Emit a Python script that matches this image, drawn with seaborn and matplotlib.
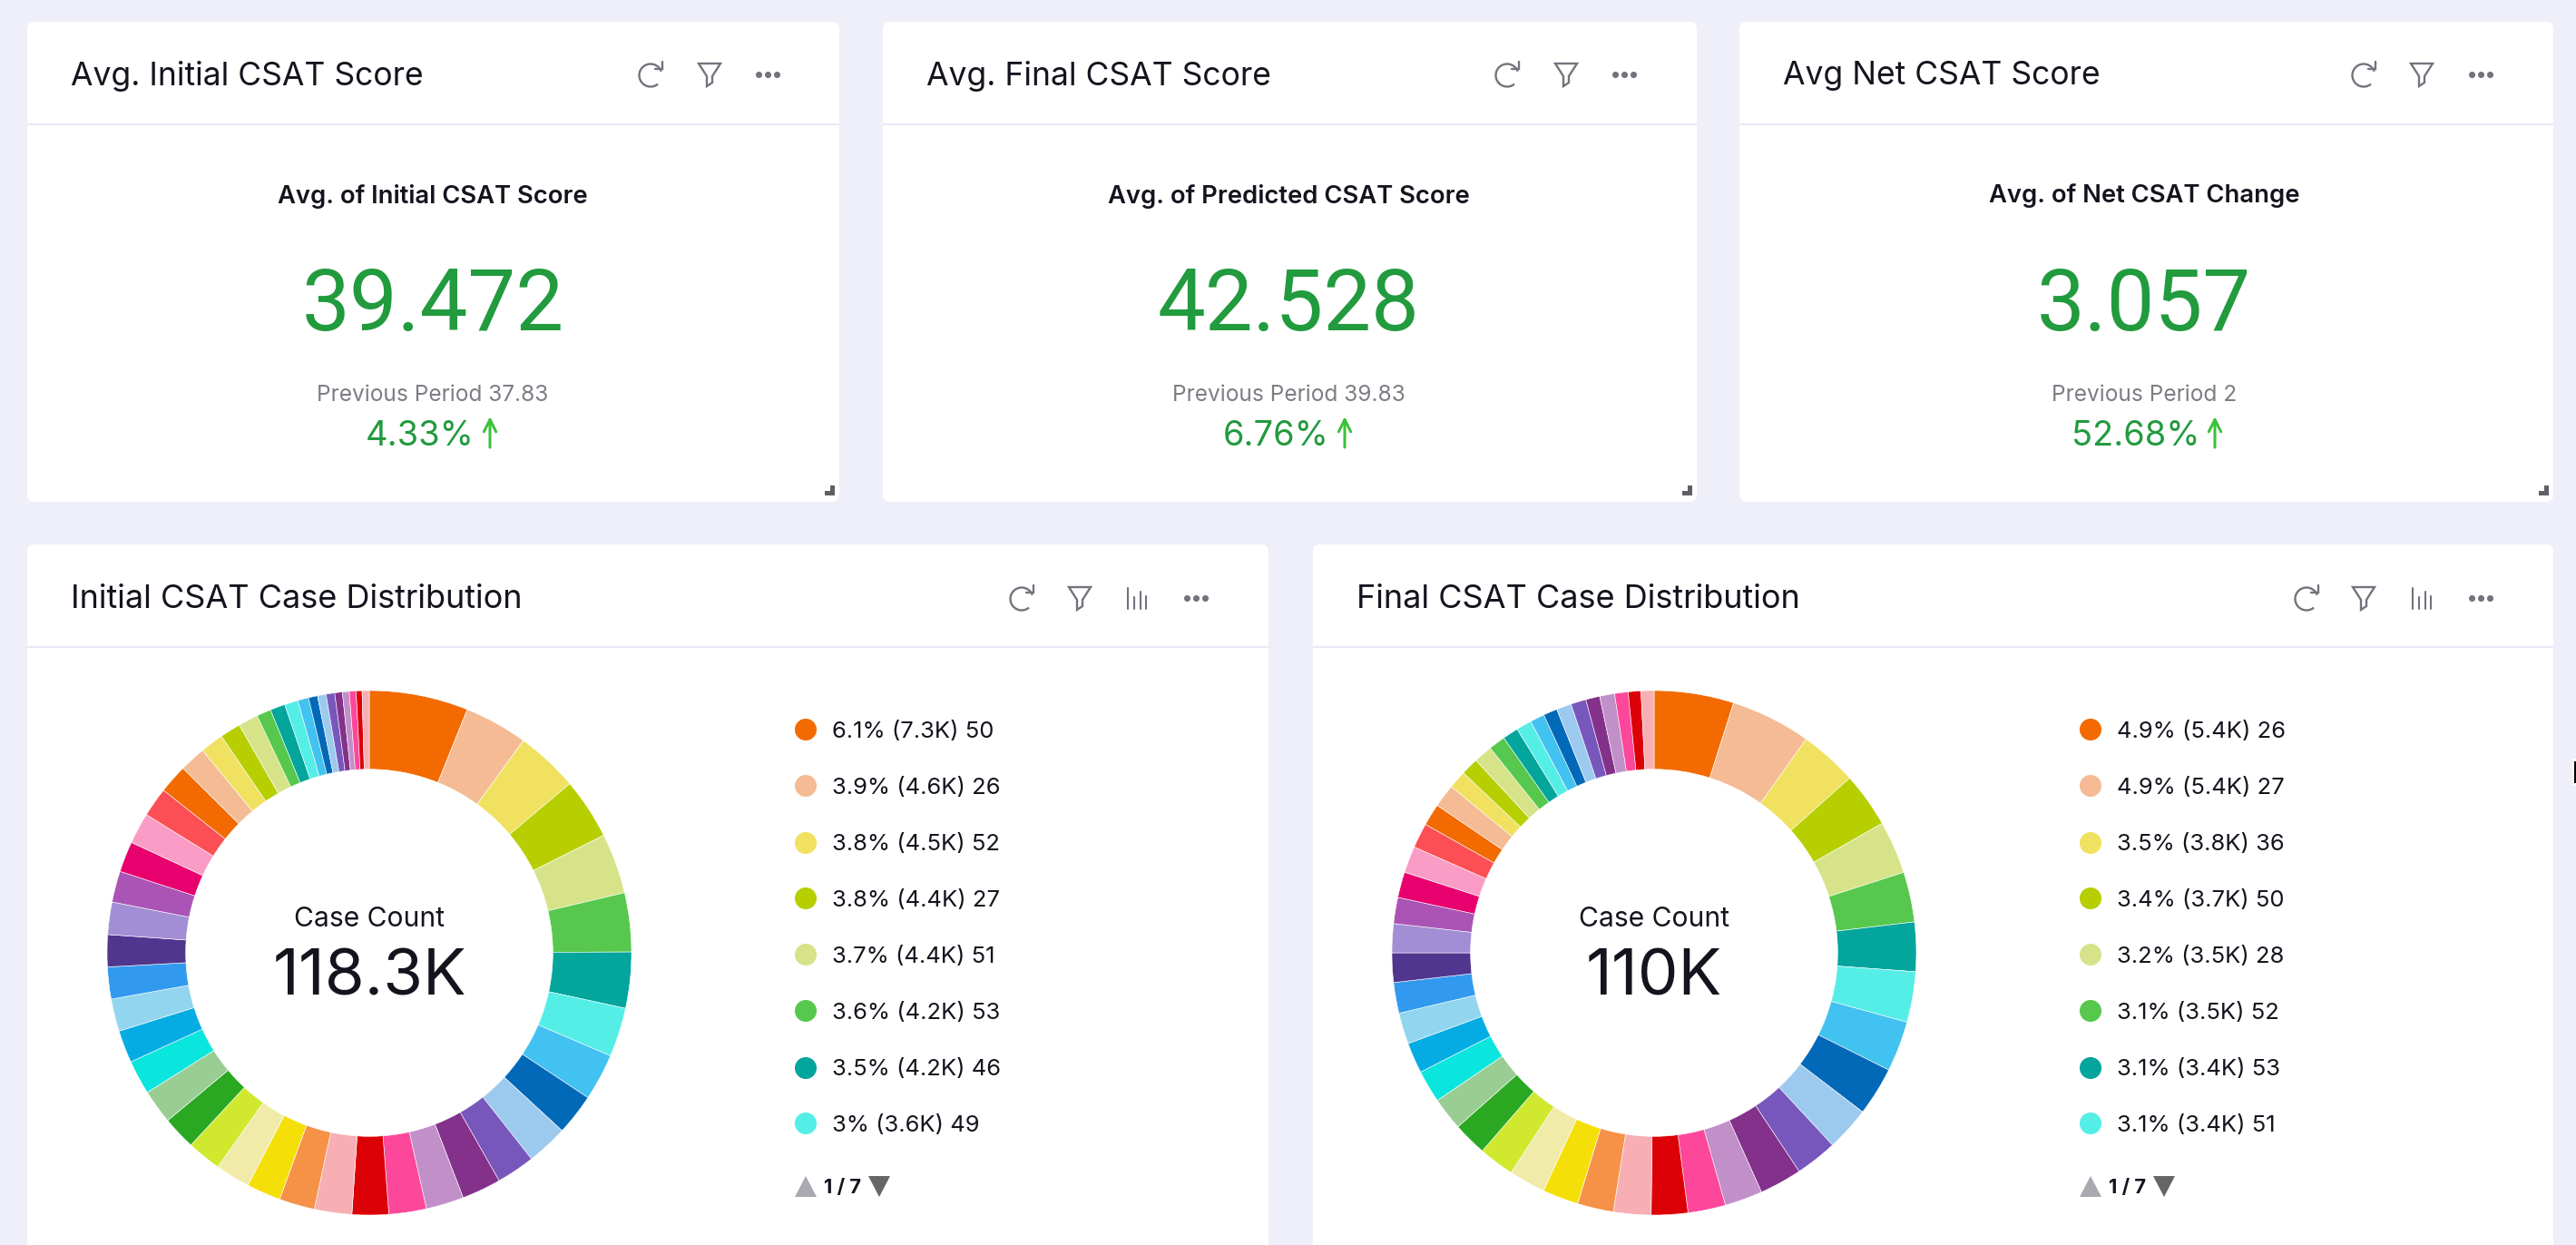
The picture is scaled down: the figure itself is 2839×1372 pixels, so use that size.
import numpy as np
import pandas as pd
import matplotlib
matplotlib.use("Agg")
import matplotlib.pyplot as plt
from matplotlib.patches import FancyBboxPatch, Arc, Polygon, Rectangle
import seaborn as sns

W, H = 2839, 1372

# kpi cards
kpi_titles = ["Avg. Initial CSAT Score", "Avg. Final CSAT Score", "Avg Net CSAT Score"]
kpi_subtitles = ["Avg. of Initial CSAT Score", "Avg. of Predicted CSAT Score", "Avg. of Net CSAT Change"]
kpi_values = ["39.472", "42.528", "3.057"]
kpi_previous = ["Previous Period 37.83", "Previous Period 39.83", "Previous Period 2"]
kpi_change = ["4.33%", "6.76%", "52.68%"]

# donut shares, clockwise from 12 o'clock (percent)
initial_shares = [6.1, 3.9, 3.86, 3.76, 3.72, 3.63, 3.45, 3.03, 2.89, 2.55, 2.53, 2.37, 2.42, 2.33, 2.31,
                  2.25, 2.31, 2.19, 2.11, 2.14, 2.11, 2.05, 2.11, 2.11, 2.0, 2.0, 1.97, 1.97, 2.0, 1.92,
                  1.89, 1.92, 1.81, 1.78, 1.61, 1.44, 1.28, 1.22, 0.89, 0.92, 0.83, 0.67, 0.56, 0.53,
                  0.53, 0.47, 0.42, 0.42, 0.36, 0.44]
final_shares = [4.9, 4.94, 3.55, 3.39, 3.25, 3.08, 3.03, 3.11, 3.11, 3.0, 2.72, 2.58, 2.61, 2.33, 2.31,
                2.25, 2.31, 2.22, 2.22, 2.25, 2.19, 2.08, 2.03, 2.0, 1.89, 1.92, 1.89, 1.81, 1.78, 1.61,
                1.58, 1.64, 1.53, 1.36, 1.42, 1.11, 1.08, 1.14, 1.03, 0.97, 0.94, 0.89, 0.86, 0.92,
                0.94, 0.86, 0.92, 0.83, 0.78, 0.8]
slice_colors = ["#F26A00", "#F4BB94", "#F0E160", "#B7CF00", "#D7E388", "#57C84D", "#03A59C", "#55EEE6",
                "#42C2F0", "#0269B8", "#9CCAEF", "#7857BD", "#83318B", "#C190C9", "#FD479B", "#DC0007",
                "#F7AFB4", "#F59248", "#F5DF08", "#F1EBA9", "#D0E92F", "#2AA822", "#9ACD94", "#0AE6DE",
                "#05ACE3", "#92D5EE", "#319AEF", "#51368F", "#A28ED4", "#AA55B5", "#E8006E", "#FA9CC5",
                "#FC4F55"]

donut_titles = ["Initial CSAT Case Distribution", "Final CSAT Case Distribution"]
donut_totals = ["118.3K", "110K"]
initial_legend = ["6.1% (7.3K) 50", "3.9% (4.6K) 26", "3.8% (4.5K) 52", "3.8% (4.4K) 27",
                  "3.7% (4.4K) 51", "3.6% (4.2K) 53", "3.5% (4.2K) 46", "3% (3.6K) 49"]
final_legend = ["4.9% (5.4K) 26", "4.9% (5.4K) 27", "3.5% (3.8K) 36", "3.4% (3.7K) 50",
                "3.2% (3.5K) 28", "3.1% (3.5K) 52", "3.1% (3.4K) 53", "3.1% (3.4K) 51"]

sns.set_theme(style="white")
plt.rcParams["font.family"] = ["Inter", "DejaVu Sans"]

BG = "#EEEFF8"
LINE = "#E8EAF6"
INK = "#14141E"
ICON = "#73737D"
GREEN = "#229A3E"
palette = sns.color_palette(slice_colors)


def px(size):
    return size * 0.72


fig = plt.figure(figsize=(W / 100, H / 100), dpi=100, facecolor=BG)

# whole figure in pixel coords, y going down
back = fig.add_axes([0, 0, 1, 1], zorder=0)
back.set_xlim(0, W)
back.set_ylim(H, 0)
back.axis("off")
front = fig.add_axes([0, 0, 1, 1], zorder=5)
front.set_xlim(0, W)
front.set_ylim(H, 0)
front.axis("off")


def card(x0, x1, y0, y1, header_y):
    back.add_patch(FancyBboxPatch((x0 + 8, y0 + 8), x1 - x0 - 16, y1 - y0 - 16,
                                  boxstyle="round,pad=8,rounding_size=8", fc="white", ec="none"))
    back.plot([x0, x1], [header_y, header_y], color=LINE, lw=1.6, solid_capstyle="butt")


def refresh_icon(x, y):
    front.add_patch(Arc((x, y + 1), 25, 25, theta1=-310, theta2=-20, color=ICON, lw=1.7))
    front.plot([x + 5, x + 13, x + 13], [y - 6, y - 6, y - 14], color=ICON, lw=1.7, solid_joinstyle="miter")


def funnel_icon(x, y):
    pts = [(x - 12, y - 12), (x + 12, y - 12), (x + 3, y + 2), (x + 3, y + 9), (x - 3, y + 13), (x - 3, y + 2)]
    front.add_patch(Polygon(pts, closed=True, fc="none", ec=ICON, lw=1.7))


def bars_icon(x, y):
    for dx, top in zip([-10, -3, 4, 10], [-11, -1, -7, -2]):
        front.plot([x + dx, x + dx], [y + top, y + 12], color=ICON, lw=1.5)


def dots_icon(x, y):
    front.scatter([x - 10, x, x + 10], [y, y, y], s=26, color=ICON, linewidths=0)


def resize_mark(x, y):
    front.add_patch(Polygon([(x + 11, y), (x + 11, y + 11), (x, y + 11), (x, y + 6), (x + 6, y + 6), (x + 6, y)],
                            closed=True, fc="#5F5F66", ec="none"))


# top row
kpi_x = [(30, 925), (973, 1870), (1917, 2814)]
kpi_cx = [477, 1420, 2363]
kpi_icons = [(717, 782, 846), (1661, 1726, 1790), (2605, 2669, 2734)]
arrow_x = [540, 1482, 2441]
for i in range(3):
    x0, x1 = kpi_x[i]
    cx = kpi_cx[i]
    card(x0, x1, 24, 553, 137)
    front.text(x0 + 48, 84, kpi_titles[i], fontsize=px(35.5), color=INK, va="center", ha="left")
    front.text(cx, 216, kpi_subtitles[i], fontsize=px(27.4), color=INK, va="center", ha="center", fontweight="semibold")
    # big figure runs tight in the original, Roboto is closer than Inter here
    front.text(cx, 338, kpi_values[i], fontsize=px(94), color=GREEN, va="center", ha="center",
               family=["Roboto", "DejaVu Sans"])
    front.text(cx, 435, kpi_previous[i], fontsize=px(24.5), color="#7D7D85", va="center", ha="center")
    front.text(arrow_x[i] - 17, 481, kpi_change[i], fontsize=px(38), color=GREEN, va="center", ha="right")
    front.annotate("", xy=(arrow_x[i], 459), xytext=(arrow_x[i], 493),
                   arrowprops=dict(arrowstyle="->,head_width=0.4,head_length=0.8", color="#3CC13B", lw=2.2,
                                   shrinkA=0, shrinkB=0))
    refresh_icon(kpi_icons[i][0], 82)
    funnel_icon(kpi_icons[i][1], 82)
    dots_icon(kpi_icons[i][2], 82)
    resize_mark(x1 - 16, 535)

# bottom row
donut_x = [(30, 1398), (1447, 2814)]
donut_cx = [407, 1823]
donut_shares = [initial_shares, final_shares]
legends = [initial_legend, final_legend]
donut_icons = [(1126, 1190, 1253, 1318), (2542, 2605, 2669, 2734)]
cy = 1050
radius = 289
legend_y = [804, 866, 929, 990, 1052, 1114, 1177, 1238]

for i in range(2):
    x0, x1 = donut_x[i]
    cx = donut_cx[i]
    card(x0, x1, 600, H + 40, 713)
    front.text(x0 + 48, 661, donut_titles[i], fontsize=px(36.1), color=INK, va="center", ha="left")
    refresh_icon(donut_icons[i][0], 659)
    funnel_icon(donut_icons[i][1], 659)
    bars_icon(donut_icons[i][2], 659)
    dots_icon(donut_icons[i][3], 659)

    ax = fig.add_axes([(cx - radius) / W, 1 - (cy + radius) / H, 2 * radius / W, 2 * radius / H], zorder=2)
    ax.pie(donut_shares[i], colors=palette, startangle=90, counterclock=False, radius=1,
           wedgeprops=dict(width=0.3, edgecolor="white", linewidth=0.4))
    ax.set_xlim(-1, 1)
    ax.set_ylim(-1, 1)
    ax.set_aspect("equal")
    ax.axis("off")

    front.text(cx, 1013, "Case Count", fontsize=px(30), color=INK, va="center", ha="center")
    front.text(cx, 1078, donut_totals[i], fontsize=px(71), color=INK, va="center", ha="center")

    # legend rows
    dot_x = cx + 481
    rows = pd.DataFrame({"x": [dot_x] * 8, "y": legend_y, "label": legends[i]})
    sns.scatterplot(data=rows, x="x", y="y", hue="label", palette=slice_colors[:8], s=300, linewidth=0,
                    legend=False, ax=front)
    for _, row in rows.iterrows():
        front.text(dot_x + 29, row["y"] + 2, row["label"], fontsize=px(25.6), color=INK, va="center", ha="left")

    # pager
    front.add_patch(Polygon([(dot_x - 12, 1319), (dot_x + 12, 1319), (dot_x, 1296)], closed=True, fc="#A9A9B2", ec="none"))
    front.text(dot_x + 20, 1309, "1 / 7", fontsize=px(22), color=INK, va="center", ha="left", fontweight="bold")
    front.add_patch(Polygon([(dot_x + 69, 1296), (dot_x + 93, 1296), (dot_x + 81, 1319)], closed=True, fc="#666666", ec="none"))

# bit of mouse cursor at the right edge of the screenshot
front.add_patch(Rectangle((2835, 836), 4, 30, fc="white", ec="none"))
front.add_patch(Rectangle((2837, 839), 2, 24, fc="black", ec="none"))

front.set_xlim(0, W)
front.set_ylim(H, 0)
front.set_xlabel("")
front.set_ylabel("")

fig.savefig("out.png", dpi=100, facecolor=BG)
